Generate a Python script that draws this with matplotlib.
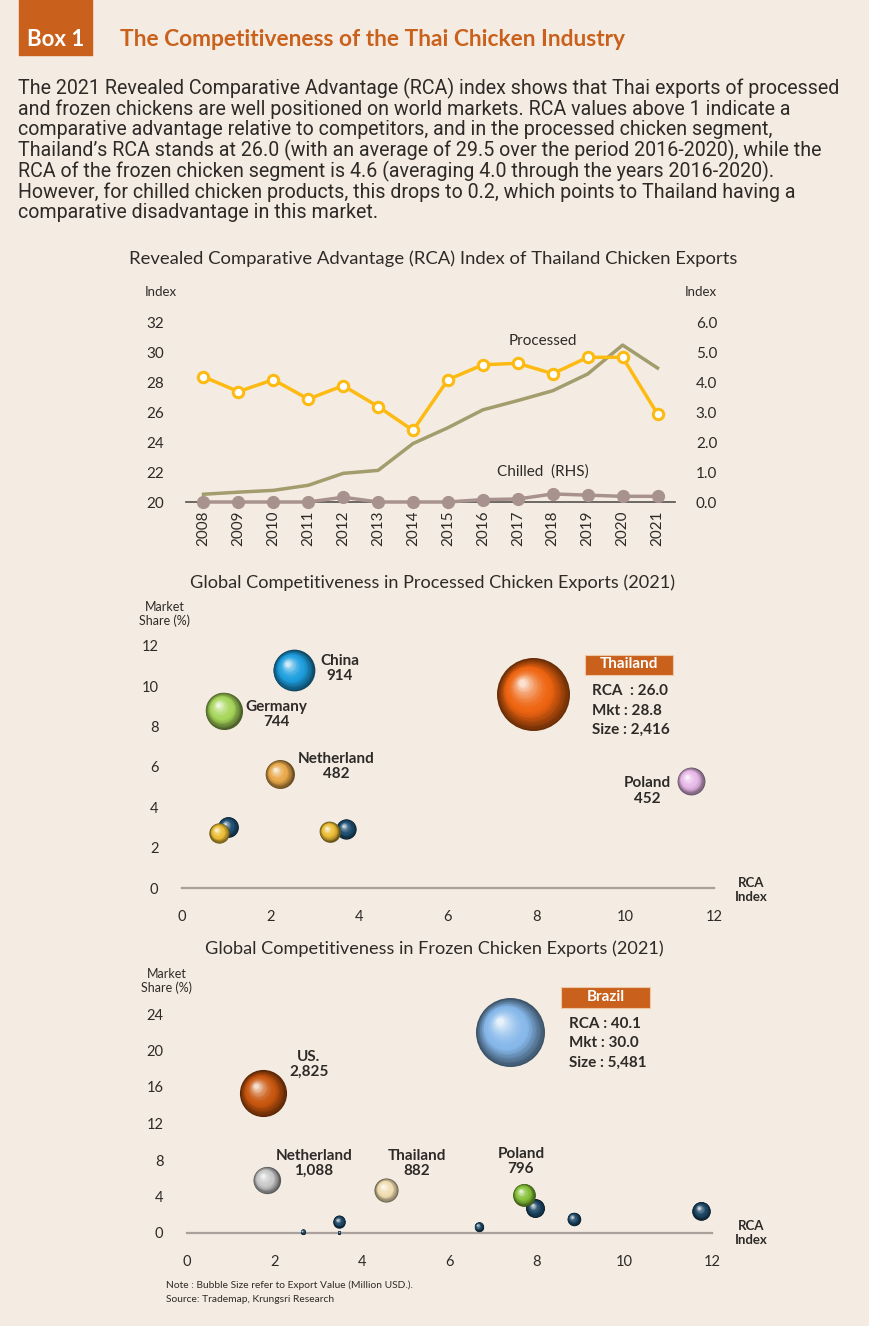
import numpy as np
import matplotlib
matplotlib.use('Agg')
import matplotlib.pyplot as plt
from matplotlib.colors import to_rgb
from matplotlib.transforms import offset_copy
from matplotlib.patches import Rectangle

W, H = 870, 1326
BG = '#F4ECE2'
ORANGE = '#C9601C'
TXT = '#2E2A28'
plt.rcParams['font.family'] = ['Lato', 'DejaVu Sans']

# ---- line chart data ----
years = list(range(2008, 2022))
processed = [28.4, 27.4, 28.2, 26.9, 27.8, 26.4, 24.8, 28.2, 29.2, 29.3, 28.6, 29.7, 29.7, 25.9]
frozen = [0.26, 0.33, 0.39, 0.56, 0.96, 1.06, 1.96, 2.49, 3.09, 3.40, 3.73, 4.29, 5.26, 4.49]
chilled = [0.0, 0.0, 0.0, 0.0, 0.16, 0.0, 0.0, 0.0, 0.08, 0.1, 0.27, 0.23, 0.19, 0.19]

# ---- processed chicken bubbles (unlabelled first) ----
proc_names = ['', '', '', '', 'China', 'Germany', 'Netherland', 'Thailand', 'Poland']
proc_rca = [1.04, 0.84, 3.71, 3.33, 2.52, 0.94, 2.20, 7.92, 11.48]
proc_share = [3.03, 2.73, 2.93, 2.80, 10.8, 8.8, 5.65, 9.6, 5.3]
proc_value = [270, 260, 260, 270, 914, 744, 482, 2416, 452]
proc_colors = ['#1F4F72', '#EBBD35', '#1F4F72', '#EBBD35', '#1E9FDF', '#A6D65A',
               '#E9A84A', '#EE6410', '#E8B8E8']

# ---- frozen chicken bubbles ----
frz_names = ['', '', '', '', '', '', '', 'Brazil', 'US.', 'Netherland', 'Thailand', 'Poland']
frz_rca = [7.96, 8.84, 11.76, 3.48, 6.67, 2.65, 3.48, 7.39, 1.74, 1.82, 4.56, 7.70]
frz_share = [2.7, 1.55, 2.45, 1.25, 0.7, 0.15, 0.05, 22.0, 15.3, 5.8, 4.7, 4.2]
frz_value = [580, 320, 560, 280, 170, 60, 25, 5481, 2825, 1088, 882, 796]
frz_colors = ['#1E4866'] * 7 + ['#86B8EA', '#C8560E', '#C8C8C8', '#F0DDB0', '#86C23A']

fig = plt.figure(figsize=(W / 100, H / 100), dpi=100, facecolor=BG)


def P(x, y):
    return x / W, 1 - y / H


def ftext(x, y, s, **kw):
    kw.setdefault('color', TXT)
    fig.text(*P(x, y), s, **kw)


def axes_px(l, r, b, t):
    ax = fig.add_axes([l / W, 1 - b / H, (r - l) / W, (b - t) / H])
    ax.set_facecolor('none')
    return ax


def sphere(ax, x, y, r, color, z):
    base = np.array(to_rgb(color))
    n = 22
    for i in range(n):
        t = i / (n - 1)
        rr = r * (1 - 0.9 * t)
        if t < 0.4:
            c = base * (0.45 + 0.55 * t / 0.4)
        else:
            c = base + (1 - base) * ((t - 0.4) / 0.6) ** 1.8 * 0.8
        tr = offset_copy(ax.transData, fig=fig, x=-0.3 * r * t, y=0.32 * r * t, units='dots')
        ax.scatter([x], [y], s=(2 * rr * 0.72) ** 2, color=np.clip(c, 0, 1), lw=0,
                   transform=tr, zorder=z + i * 0.01, clip_on=False)


# ---- header ----
fig.patches.append(Rectangle(P(19, 55), 73 / W, 55 / H, transform=fig.transFigure,
                             color=ORANGE, zorder=0))
ftext(55.5, 40, 'Box 1', color='white', fontsize=16, fontweight='bold', ha='center', va='center')
ftext(120, 40, 'The Competitiveness of the Thai Chicken Industry', color=ORANGE,
      fontsize=16.4, fontweight='bold', va='center')

para = ["The 2021 Revealed Comparative Advantage (RCA) index shows that Thai exports of processed",
        "and frozen chickens are well positioned on world markets. RCA values above 1 indicate a",
        "comparative advantage relative to competitors, and in the processed chicken segment,",
        "Thailand\u2019s RCA stands at 26.0 (with an average of 29.5 over the period 2016-2020), while the",
        "RCA of the frozen chicken segment is 4.6 (averaging 4.0 through the years 2016-2020).",
        "However, for chilled chicken products, this drops to 0.2, which points to Thailand having a",
        "comparative disadvantage in this market."]
for i, line in enumerate(para):
    ftext(18, 88 + 20.8 * i, line, fontsize=14.1, va='center', family=['Roboto', 'DejaVu Sans'])

# ---- line chart ----
ftext(433, 259, 'Revealed Comparative Advantage (RCA) Index of Thailand Chicken Exports',
      fontsize=13.3, ha='center', va='center')
ftext(161, 292, 'Index', fontsize=9.5, ha='center', va='center')
ftext(701, 292, 'Index', fontsize=9.5, ha='center', va='center')

ax = axes_px(186, 675, 502, 323)
ax2 = ax.twinx()
ax.plot(years, processed, color='#FDBA12', lw=2.5, marker='o', ms=7.5, mfc='white',
        mec='#FDBA12', mew=2.2, zorder=5, clip_on=False)
ax2.plot(years, frozen, color='#A39C6C', lw=2.5, zorder=3, clip_on=False)
ax2.plot(years, chilled, color='#A8928E', lw=2.5, marker='o', ms=8.5, zorder=4, clip_on=False)
ax.set_xlim(2007.5, 2021.5)
ax.set_ylim(20, 32)
ax2.set_ylim(0, 6)
ax.set_yticks(range(20, 33, 2))
ax2.set_yticks(np.arange(0, 6.1, 1))
ax2.set_yticklabels([f'{v:.1f}' for v in np.arange(0, 6.1, 1)])
ax.set_xticks(years)
ax.set_xticklabels([str(y) for y in years], rotation=90)
ax.tick_params(axis='x', length=0, pad=6, labelsize=11, labelcolor=TXT)
ax.tick_params(axis='y', length=0, pad=16, labelsize=11, labelcolor=TXT)
ax2.tick_params(axis='y', length=0, pad=15, labelsize=11, labelcolor=TXT)
for a in (ax, ax2):
    for s in a.spines.values():
        s.set_visible(False)
ax2.spines['bottom'].set_visible(True)
ax2.spines['bottom'].set_color('#555050')
ax2.spines['bottom'].set_linewidth(1.2)
ax2.spines['bottom'].set_zorder(1)
ax.set_zorder(ax2.get_zorder() + 1)
ax.patch.set_visible(False)
ftext(543, 341, 'Processed', fontsize=11, ha='center', va='center')
ftext(543, 472, 'Chilled  (RHS)', fontsize=11, ha='center', va='center')


def bubble_axes(l, r, b, t, ymax, ystep):
    a = axes_px(l, r, b, t)
    a.set_xlim(0, 12)
    a.set_ylim(0, ymax)
    a.set_xticks(range(0, 13, 2))
    a.set_yticks(range(0, ymax + 1, ystep))
    a.tick_params(length=0, labelsize=10.5, labelcolor=TXT)
    a.tick_params(axis='y', pad=17)
    a.tick_params(axis='x', pad=16)
    for s in a.spines.values():
        s.set_visible(False)
    a.spines['bottom'].set_visible(True)
    a.spines['bottom'].set_color('#ABA19C')
    a.spines['bottom'].set_linewidth(1.6)
    return a


# ---- processed bubble chart ----
ftext(433, 583, 'Global Competitiveness in Processed Chicken Exports (2021)',
      fontsize=13.1, ha='center', va='center')
ftext(165, 607, 'Market', fontsize=9, ha='center', va='center')
ftext(165, 621, 'Share (%)', fontsize=9, ha='center', va='center')
ftext(751, 883, 'RCA', fontsize=9.5, fontweight='bold', ha='center', va='center')
ftext(751, 897, 'Index', fontsize=9.5, fontweight='bold', ha='center', va='center')
bx1 = bubble_axes(182, 714, 888, 646, 12, 2)
vmax = max(proc_value)
for i in range(len(proc_value)):
    r = 36.5 * (proc_value[i] / vmax) ** 0.575
    sphere(bx1, proc_rca[i], proc_share[i], r, proc_colors[i], 3 + i)

lab = dict(fontsize=11, fontweight='bold', ha='center', va='center')
ftext(340, 661, 'China', **lab)
ftext(340, 676, '914', **lab)
ftext(276, 707, 'Germany', **lab)
ftext(276, 722, '744', **lab)
ftext(336, 759, 'Netherland', **lab)
ftext(336, 774, '482', **lab)
ftext(647, 783, 'Poland', **lab)
ftext(647, 799, '452', **lab)
fig.patches.append(Rectangle(P(585, 675), 88 / W, 20 / H, transform=fig.transFigure,
                             facecolor=ORANGE, edgecolor='#F0C8A8', lw=0.8, zorder=2))
ftext(629, 664, 'Thailand', color='white', **lab)
ftext(592, 691, 'RCA  : 26.0', fontsize=11, fontweight='bold', va='center')
ftext(592, 711, 'Mkt : 28.8', fontsize=11, fontweight='bold', va='center')
ftext(592, 730, 'Size : 2,416', fontsize=11, fontweight='bold', va='center')

# ---- frozen bubble chart ----
ftext(434, 949, 'Global Competitiveness in Frozen Chicken Exports (2021)',
      fontsize=13.1, ha='center', va='center')
ftext(167, 974, 'Market', fontsize=9, ha='center', va='center')
ftext(167, 988, 'Share (%)', fontsize=9, ha='center', va='center')
ftext(751, 1226, 'RCA', fontsize=9.5, fontweight='bold', ha='center', va='center')
ftext(751, 1240, 'Index', fontsize=9.5, fontweight='bold', ha='center', va='center')
bx2 = bubble_axes(187, 712, 1233, 1014, 24, 4)
vmax = max(frz_value)
for i in range(len(frz_value)):
    r = 34.5 * (frz_value[i] / vmax) ** 0.575
    sphere(bx2, frz_rca[i], frz_share[i], r, frz_colors[i], 3 + i)

ftext(309, 1057, 'US.', **lab)
ftext(309, 1072, '2,825', **lab)
ftext(314, 1156, 'Netherland', **lab)
ftext(314, 1171, '1,088', **lab)
ftext(417, 1156, 'Thailand', **lab)
ftext(417, 1171, '882', **lab)
ftext(521, 1154, 'Poland', **lab)
ftext(521, 1169, '796', **lab)
fig.patches.append(Rectangle(P(561, 1008), 89 / W, 21 / H, transform=fig.transFigure,
                             facecolor=ORANGE, edgecolor='#F0C8A8', lw=0.8, zorder=2))
ftext(605.5, 997, 'Brazil', color='white', **lab)
ftext(569, 1024, 'RCA : 40.1', fontsize=11, fontweight='bold', va='center')
ftext(569, 1043, 'Mkt : 30.0', fontsize=11, fontweight='bold', va='center')
ftext(569, 1063, 'Size : 5,481', fontsize=11, fontweight='bold', va='center')

ftext(166, 1285, 'Note : Bubble Size refer to Export Value (Million USD.).', fontsize=7.4, va='center')
ftext(166, 1300, 'Source: Trademap, Krungsri Research', fontsize=7.4, va='center')

fig.savefig('out.png', dpi=100, facecolor=BG)
